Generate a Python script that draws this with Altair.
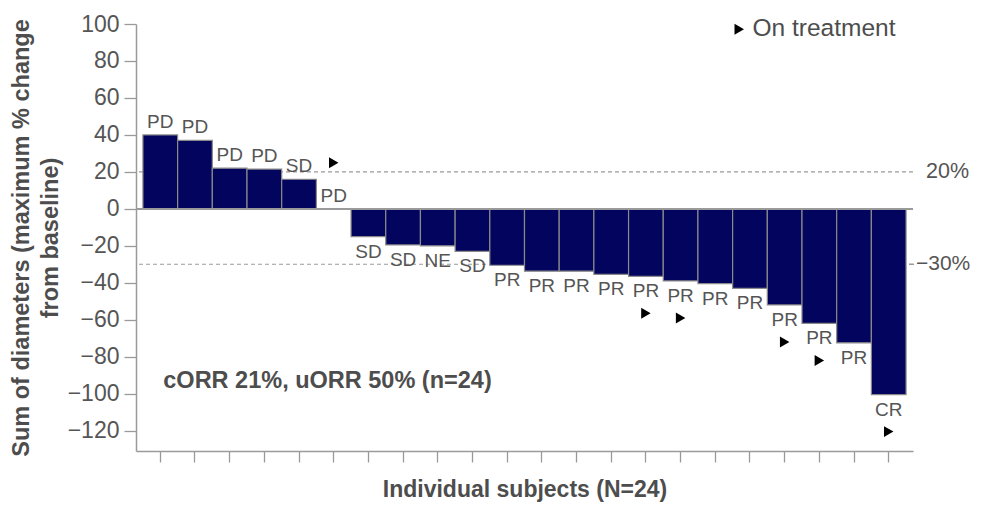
import altair as alt
import pandas as pd

subjects = list(range(1, 23))
values = [40, 37, 22, 21.5, 16, 0, -15, -19.5, -20, -23, -30.5, -33.7, -33.7,
          -35.5, -36.5, -39, -40.5, -43, -52, -62, -72.5, -100.5]
responses = ["PD", "PD", "PD", "PD", "SD", "PD", "SD", "SD", "NE", "SD"] + ["PR"] * 11 + ["CR"]
on_treatment_below = [15, 16, 19, 20, 22]
on_treatment_above = [6]
ref_values = [20, -30]
ref_labels = ["20%", "−30%"]
y_ticks = list(range(-120, 101, 20))
note_text = ["cORR 21%, uORR 50% (n=24)"]
note_pos = [(1, -93)]

df = pd.DataFrame({"subject": subjects, "value": values, "response": responses})
df["status"] = "On treatment"
ref_df = pd.DataFrame({"value": ref_values, "label": ref_labels})
note_df = pd.DataFrame({"subject": [p[0] for p in note_pos],
                        "value": [p[1] for p in note_pos], "text": note_text})

W, H = 777, 427
FONT = "Liberation Sans"
GRAY = "#9a9a9a"
TXT = "#4d4d4d"

yscale = alt.Scale(domain=[-131, 100], nice=False, zero=False)
xaxis = alt.Axis(
    labels=False, title="Individual subjects (N=24)", titleFont=FONT,
    titleFontSize=23, titleFontWeight="bold", titleColor=TXT,
    titlePadding=16, tickSize=11, tickColor=GRAY, tickWidth=1.3,
    domainColor=GRAY, domainWidth=1.5, grid=False,
)
xenc = alt.X("subject:O", scale=alt.Scale(paddingInner=0, paddingOuter=0.2), axis=xaxis)
yaxis_left = alt.Axis(
    orient="left", values=y_ticks, tickCount=12, grid=False, tickSize=12, tickColor=GRAY,
    tickWidth=1.3, domainColor=GRAY, domainWidth=1.5, labelFont=FONT,
    labelFontSize=23, labelColor="#555555", labelPadding=5,
    labelOverlap=False, labelFlush=False, labelBound=False,
    title=["Sum of diameters (maximum % change", "from baseline)"],
    titleFont=FONT, titleFontSize=23.5, titleFontWeight="bold",
    titleColor=TXT, titleLineHeight=29, titlePadding=5,
)
yenc = alt.Y("value:Q", scale=yscale, axis=yaxis_left)

refs = alt.Chart(ref_df).mark_rule(color=GRAY, strokeWidth=1.1, strokeDash=[4, 3]).encode(
    y=yenc
)

ref_ticks = alt.Chart(ref_df).transform_filter("datum.value < 0").mark_rule(
    color=GRAY, strokeWidth=1.3
).encode(y=yenc, x=alt.value(W - 4), x2=alt.value(W + 1))

ref_text_pos = alt.Chart(ref_df).transform_filter("datum.value > 0").mark_text(
    font=FONT, fontSize=21.5, color="#555555", align="left", baseline="middle"
).encode(y=yenc, text="label:N", x=alt.value(W + 13))

ref_text_neg = alt.Chart(ref_df).transform_filter("datum.value < 0").mark_text(
    font=FONT, fontSize=21, color="#555555", align="left", baseline="middle"
).encode(y=yenc, text="label:N", x=alt.value(W + 3))

bars = alt.Chart(df).mark_bar(color="#03045e", stroke="#8a8a8a", strokeWidth=1.2).encode(
    x=xenc, y=yenc, y2=alt.datum(0),
)

zero = alt.Chart(df).mark_rule(color=GRAY, strokeWidth=1.5).encode(y=alt.datum(0))

lab_pos = alt.Chart(df).transform_filter("datum.value >= 0").mark_text(
    font=FONT, fontSize=19, color="#555555", baseline="alphabetic", dy=-7
).encode(x=xenc, y=yenc, text="response:N")

lab_neg = alt.Chart(df).transform_filter("datum.value < 0").mark_text(
    font=FONT, fontSize=19, color="#555555", baseline="alphabetic", dy=21
).encode(x=xenc, y=yenc, text="response:N")

shape_enc = alt.Shape(
    "status:N", scale=alt.Scale(range=["triangle-right"]),
    legend=alt.Legend(
        title=None, orient="none", legendX=591, legendY=-7,
        labelFont=FONT, labelFontSize=24.5, labelColor=TXT,
        symbolSize=120, symbolFillColor="black", symbolStrokeWidth=0, labelOffset=1,
    ),
)

arrows_below = alt.Chart(df).transform_filter(
    alt.FieldOneOfPredicate(field="subject", oneOf=on_treatment_below)
).mark_point(filled=True, size=120, color="black", yOffset=37, opacity=1).encode(
    x=xenc, y=yenc, shape=shape_enc
)

arrows_above = alt.Chart(df).transform_filter(
    alt.FieldOneOfPredicate(field="subject", oneOf=on_treatment_above)
).mark_point(filled=True, size=120, color="black", yOffset=-46, opacity=1).encode(
    x=xenc, y=yenc, shape=shape_enc
)

note = alt.Chart(note_df).mark_text(
    font=FONT, fontSize=23.5, fontWeight="bold", color=TXT, align="left", dx=3
).encode(x=xenc, y=yenc, text="text:N")

chart = alt.layer(
    refs, bars, zero, lab_pos, lab_neg, arrows_below, arrows_above, note,
    ref_ticks, ref_text_pos, ref_text_neg,
).properties(
    width=W, height=H,
    autosize=alt.AutoSizeParams(type="none"),
    padding={"left": 128, "top": 16, "right": 60, "bottom": 51},
).configure_view(stroke=None)

chart.save("out.html", embed_options={"renderer": "svg", "actions": False})
